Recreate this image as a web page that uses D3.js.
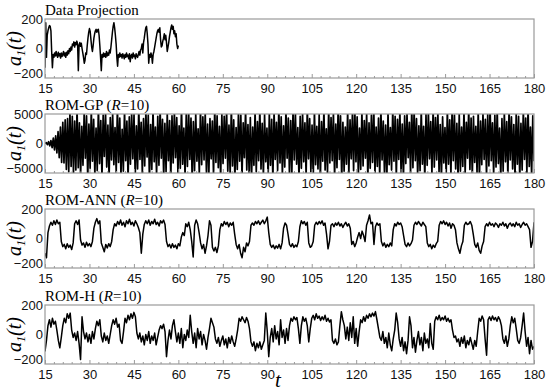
<!DOCTYPE html>
<html>
<head>
<meta charset="utf-8">
<script src="https://cdn.jsdelivr.net/npm/d3@7"></script>
<style>
body{margin:0;background:#fff;}
</style>
</head>
<body>
<script>
//---------------------------------- datos
var tTicks=[15,30,45,60,75,90,105,120,135,150,165,180];
var yTicksPeq=[-200,0,200];
var yTicksGP=[-5000,0,5000];

// Data Projection, t 15 -> 60, paso 0.25
var proyeccion=[
-130,175,-60,90,120,140,155,150,
120,-20,-130,-40,-60,-30,-50,-20,
-45,-60,-25,-50,-35,-65,-30,-55,
-40,-20,-50,-30,-60,-25,-45,-15,
-35,0,-20,10,-10,30,20,45,
10,40,25,50,30,-150,20,40,
15,35,0,-30,-60,-100,-80,-30,
-40,20,70,110,135,115,60,10,
-20,20,70,100,120,130,110,125,
130,90,20,-60,-150,-40,-60,-30,
-55,-35,-60,-20,-50,-30,-45,-10,
-30,10,60,110,150,175,140,90,
30,-60,-120,-40,-60,-30,-55,-40,
-65,-35,-50,-70,-40,-60,-30,-55,
-45,-70,-35,-90,-50,-40,-65,-30,
-55,-45,-70,-35,-50,-60,-40,-20,
-45,-10,0,30,-30,40,70,110,
140,150,100,30,-100,-40,-60,-30,
-50,-100,-40,-20,10,40,70,100,
120,130,110,140,60,10,20,50,
70,100,60,90,40,-20,10,40,
80,110,140,160,130,150,100,120,
80,100,30,0,
20];

// ROM-GP (R=10), t 15 -> 180
var romGP=[
0,150,-200,300,-400,500,-700,900,-1100,1300,
-1600,2000,-2400,2800,-3200,3600,-3300,4000,-4400,4200,
-4800,5500,-3900,4600,-5200,3800,-4500,6000,-4100,3500,
-5600,2900,-3700,5200,-2500,4700,-6100,3300,-4200,5800,
-3000,4100,-5300,2600,-4600,6200,-3400,3900,-5700,4800,
-2200,5400,-4000,3100,-6000,4400,-2800,5100,-3600,2700,
-4900,6300,-3200,4300,-5500,2400,-4700,5700,-2900,3800,
-6200,4500,-3500,5300,-2600,4900,-5800,3000,-4300,6100,
-2700,3600,-5100,4200,-3800,5600,-2300,4800,-6400,3200,
-4400,5900,-3100,2800,-5400,4600,-3700,6000,-2500,4100,
-5700,3400,-4800,5200,-2900,3900,-6100,4700,-3300,5500,
-2400,4400,-5000,3000,-4200,6200,-3500,2600,-5600,4900,
-3900,5700,-2700,4300,-6300,3700,-4600,5100,-3000,2500,
-5200,6000,-3600,4500,-2800,5300,-4900,3300,-5900,4200,
-2600,3800,-5500,6100,-3200,4700,-4100,2900,-6000,5000,
-3400,4600,-2500,5800,-4700,3100,-5300,6300,-3800,4000,
-6100,2700,-4400,5400,-3000,4800,-5800,3500,-2400,5900,
-4500,3200,-5100,4400,-6200,2800,-3700,5600,-4800,3700,
-2900,6000,-4300,3400,-5600,4900,-3100,2600,-5900,5200,
-3700,4100,-6300,5500,-2700,3600,-4600,6200,-3300,4500,
-5400,3000,-4000,5800,-2500,4300,-5700,3900,-4900,6100,
-2800,5000,-3500,2700,-6000,4600,-4200,5300,-3100,3500,
-5500,6200,-2600,4200,-4800,3100,-5900,5600,-3600,2900,
-4300,4900,-6100,3700,-3000,5900,-4500,2500,-5200,6000,
-3300,4400,-2900,5400,-5800,3300,-4100,6300,-2700,4700,
-6200,3600,-4700,2800,-3500,5700,-5300,4000,-2600,5100,
-4600,6100,-3100,4500,-5500,2600,-4400,5500,-3800,3900,
-2500,5200,-6000,3500,-4200,4800,-3200,6200,-5100,2800,
-3900,4300,-5600,5900,-2800,3800,-4900,3100,-6300,5300,
-3600,2700,-4500,6000,-3000,4600,-5700,4100,-2700,5600,
-5000,3300,-6100,4700,-3400,5100,-2400,3600,-5300,6300,
-4100,5700,-2900,4200,-5900,3000,-4600,5800,-3500,2900,
-6000,4900,-3700,5400,-2600,3700,-5200,6100,-4000,4400,
-2800,5300,-4800,3200,-6200,4500,-3300,2700,-5500,5900,
-3500,4000,-5400,6200,-2900,4800,-4300,3400,-6100,5000,
-4700,2800,-3900,5600,-5000,3600,-2500,6000,-4400,4300,
-5800,4600,-3200,2900,-4900,5700,-6200,3800,-3600,5200,
-2700,4100,-5600,4900,-3800,6300,-2900,3500,-5300,4800,
-4000,5900,-3400,2600,-6000,4200,-4700,5400,-3100,3700,
-5700,6100,-2800,4500,-4300,3200,-5900,5000,-3500,4600,
-6200,3400,-4500,5800,-2700,4300,-5000,6200,-3900,2800,
-5400,4700,-3000];

// ROM-ANN (R=10), t 15 -> 180, paso 0.5
var romANN=[
-100,-130,40,85,110,90,120,95,125,100,
110,-20,-55,-40,-70,-35,-60,-45,-75,-30,
100,120,95,125,-10,-45,-30,-60,-25,-50,
-35,-55,-20,70,110,135,100,120,-30,-60,
-90,-40,-65,-35,-55,-20,60,100,85,115,
95,125,90,110,80,120,100,130,95,110,
85,120,100,75,40,-100,30,95,120,100,
125,90,115,100,130,95,110,85,120,105,
125,95,-20,-55,-40,-65,-35,-60,-45,-70,
-35,-50,10,40,20,100,80,110,60,-20,
-125,90,125,100,40,-30,-70,-40,-100,-50,
20,120,90,-60,-85,-60,-95,-50,60,100,
85,115,95,110,80,105,90,110,30,-40,
-70,-40,-100,-130,-60,-90,-30,-50,-20,90,
105,90,115,100,120,95,110,125,100,120,
145,40,-40,-60,-45,-70,-50,-65,-40,-70,
-30,70,105,90,30,-40,-55,-35,-60,-45,
-55,-20,80,120,100,115,90,110,-30,-60,
-50,-20,90,110,95,115,100,120,90,105,
30,-70,-20,90,100,80,105,90,110,85,
100,75,95,110,85,100,70,-40,-20,-55,
-30,10,40,0,50,20,-20,90,120,160,
100,110,-40,80,105,90,100,-20,-50,-30,
-60,-40,-55,-30,-50,60,100,85,110,95,
105,80,20,-40,-55,-30,-50,-35,-10,90,
110,95,115,100,85,110,95,80,-30,-55,
-40,-70,-45,-60,-35,-20,90,115,100,120,
95,110,85,105,70,100,90,60,-30,-70,
-100,-50,-20,90,110,95,100,115,90,30,
-40,-60,-30,-80,-100,-50,-20,80,100,85,
110,90,100,80,105,95,75,100,90,110,
85,100,70,95,105,85,100,80,110,90,
100,75,95,110,90,100,80,60,-60,-20,
110];

// ROM-H (R=10), t 15 -> 180, paso 0.5
var romH=[
-115,-40,60,100,50,110,70,90,30,-40,
-90,-20,60,110,80,140,110,145,30,-20,
10,-40,20,-60,-170,120,20,-30,10,-50,
0,-60,20,-30,40,90,60,100,-10,-50,
10,-40,-10,-60,0,60,100,70,110,50,
70,-40,-60,20,110,80,130,100,140,110,
150,120,10,-30,10,-50,-10,-70,0,-40,
20,-60,-10,-40,10,-70,-20,30,60,40,
70,20,-150,-40,30,-30,60,100,20,-50,
10,-60,40,-90,0,-40,30,-20,130,20,
-60,10,-90,40,-30,20,-70,0,-40,-100,
-20,40,110,80,50,-30,-60,-20,-80,-40,
-10,-70,-30,-90,-20,-60,-10,-50,-80,-30,
30,110,90,120,100,80,115,90,40,-50,
-80,-50,-110,-60,-90,-50,-100,-70,-40,145,
20,-150,-20,40,-50,60,-30,20,-70,100,
-20,30,-60,40,-40,60,110,90,120,100,
115,40,-60,60,120,90,110,60,-50,40,
110,130,100,140,110,125,95,120,100,130,
90,110,85,100,-40,-60,-30,-70,-50,60,
155,100,60,-30,50,-40,80,-20,120,-60,
40,-80,20,100,80,120,90,130,110,140,
120,145,125,155,100,40,-20,-40,20,-60,
-20,-90,10,-70,-110,-30,30,145,80,-30,
-80,-20,-110,-50,-130,-40,120,60,-90,-20,
-120,-40,20,-70,-20,-110,10,-60,-30,-90,
75,-60,-100,90,120,100,130,95,115,100,
125,90,110,85,100,30,-20,-10,-50,-30,
-80,-20,-60,-10,-90,-40,-70,-20,-60,-100,
-40,-80,20,110,90,125,100,-30,-140,100,
120,95,125,100,115,90,120,100,60,-30,
-60,-10,-80,-30,60,120,80,110,40,-40,
-60,-20,60,145,20,-80,-20,-130,-40,-100,
-80];

//---------------------------------- paneles
var paneles=[
	{titulo:["Data Projection"], serie:proyeccion, t0:15, t1:60, dominio:[-200,200], yTicks:yTicksPeq, top:19, grosor:1.5},
	{titulo:["ROM-GP (","R","=10)"], serie:romGP, t0:15, t1:180, dominio:[-5000,5000], yTicks:yTicksGP, top:114, grosor:1.7},
	{titulo:["ROM-ANN (","R","=10)"], serie:romANN, t0:15, t1:180, dominio:[-200,200], yTicks:yTicksPeq, top:209, grosor:1.5},
	{titulo:["ROM-H (","R","=10)"], serie:romH, t0:15, t1:180, dominio:[-200,200], yTicks:yTicksPeq, top:305, grosor:1.5}
];

var ancho=550, alto=391;
var margenes={left:45,right:16};
var altoPanel=59;
var gris="#9a9a9a";

var svg=d3.select("body").append("svg")
	.attr("width",ancho)
	.attr("height",alto);

var x=d3.scaleLinear().domain([15,180]).range([margenes.left,ancho-margenes.right]);

paneles.forEach(function (p,k){
	renderPanel(p,k);
});

// eje t
svg.append("text")
	.attr("x",278)
	.attr("y",387)
	.attr("text-anchor","middle")
	.style("font-family","'Liberation Serif','Times New Roman',serif")
	.style("font-style","italic")
	.style("font-size","21px")
	.text("t");

function renderPanel(p,k)
{
	var y=d3.scaleLinear().domain(p.dominio).range([p.top+altoPanel,p.top]);
	var g=svg.append("g").attr("class","panel");

	svg.append("defs").append("clipPath")
		.attr("id","mascara"+k)
		.append("rect")
		.attr("x",x.range()[0])
		.attr("y",p.top)
		.attr("width",x.range()[1]-x.range()[0])
		.attr("height",altoPanel);

	// serie
	var n=p.serie.length, dt=(p.t1-p.t0)/(n-1);
	var linea=d3.line()
		.x(function (d,i){ return x(p.t0+i*dt); })
		.y(function (d){ return y(d); });
	g.append("path")
		.datum(p.serie)
		.attr("clip-path","url(#mascara"+k+")")
		.attr("d",linea)
		.attr("fill","none")
		.attr("stroke","#000")
		.attr("stroke-width",p.grosor)
		.attr("stroke-linejoin","round");

	// marco
	g.append("rect")
		.attr("x",x.range()[0])
		.attr("y",p.top)
		.attr("width",x.range()[1]-x.range()[0])
		.attr("height",altoPanel)
		.attr("fill","none")
		.attr("stroke",gris)
		.attr("stroke-width",1.2);

	// eje x: ticks hacia adentro
	var ejeX=d3.axisBottom(x).tickValues(tTicks).tickSize(-4).tickPadding(6).tickFormat(d3.format("d"));
	var gx=g.append("g")
		.attr("transform","translate(0,"+(p.top+altoPanel)+")")
		.call(ejeX);
	gx.select(".domain").remove();
	gx.selectAll(".tick line").attr("stroke",gris);
	gx.selectAll(".tick text")
		.attr("fill","#111")
		.style("font-family","'Liberation Sans',Arial,sans-serif")
		.style("font-size","13px");

	var menores=d3.range(15,181,3).filter(function (v){ return tTicks.indexOf(v)<0; });
	var ejeMenor=d3.axisBottom(x).tickValues(menores).tickSize(-2).tickFormat("");
	var gm=g.append("g")
		.attr("transform","translate(0,"+(p.top+altoPanel)+")")
		.call(ejeMenor);
	gm.select(".domain").remove();
	gm.selectAll(".tick line").attr("stroke",gris);

	// eje y
	var ejeY=d3.axisLeft(y).tickValues(p.yTicks).tickSize(0).tickPadding(2).tickFormat(d3.format("d"));
	var gy=g.append("g")
		.attr("transform","translate("+x.range()[0]+",0)")
		.call(ejeY);
	gy.select(".domain").remove();
	gy.selectAll(".tick text")
		.attr("fill","#111")
		.style("font-family","'Liberation Sans',Arial,sans-serif")
		.style("font-size","13px")
		.attr("dy",function (d){ return d<0 ? "-0.05em" : "0.32em"; });

	// titulo
	var tt=g.append("text")
		.attr("x",x.range()[0])
		.attr("y",p.top-4)
		.style("font-family","'Liberation Serif','Times New Roman',serif")
		.style("font-size","15px")
		.attr("fill","#000");
	p.titulo.forEach(function (s,j){
		tt.append("tspan").text(s).style("font-style",j==1?"italic":"normal");
	});

	// etiqueta a1(t)
	var ly=g.append("text")
		.attr("transform","translate(21,"+(p.top+altoPanel/2)+") rotate(-90)")
		.attr("text-anchor","middle")
		.style("font-family","'Liberation Serif','Times New Roman',serif")
		.style("font-style","italic")
		.style("font-size","20px")
		.attr("fill","#000");
	ly.append("tspan").text("a");
	ly.append("tspan").text("1").attr("dy",4).style("font-size","12px");
	ly.append("tspan").text("(t)").attr("dy",-4);
}
</script>
</body>
</html>
